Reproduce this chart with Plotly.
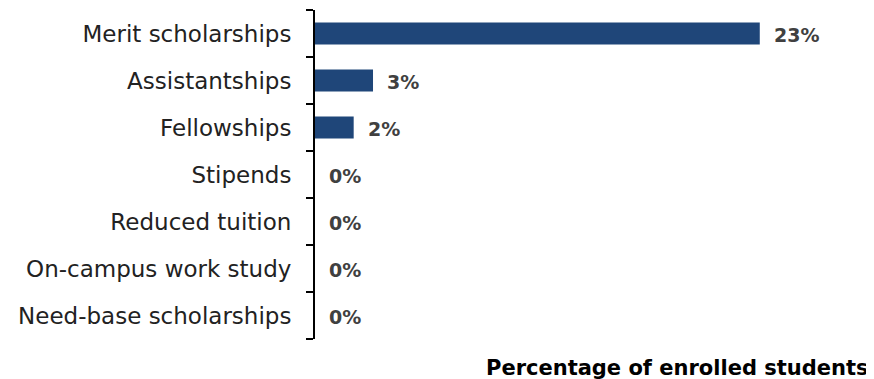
import plotly.graph_objects as go

categories = ["Merit scholarships", "Assistantships", "Fellowships", "Stipends",
              "Reduced tuition", "On-campus work study", "Need-base scholarships"]
values = [23, 3, 2, 0, 0, 0, 0]
labels = ["23%", "3%", "2%", "0%", "0%", "0%", "0%"]

FONT = "DejaVu Sans"

fig = go.Figure()
fig.add_trace(go.Bar(
    y=categories, x=values, orientation="h",
    marker=dict(color="#1f4679", line=dict(width=0)),
    width=0.47, hoverinfo="skip",
))

annotations = [
    dict(x=v, y=c, xref="x", yref="y", text=t, showarrow=False,
         xanchor="left", yanchor="middle", xshift=12, yshift=-1,
         font=dict(family=FONT, size=19, color="#404040", weight="bold"))
    for c, v, t in zip(categories, values, labels)
]
annotations.append(dict(
    x=1, y=0, xref="paper", yref="paper", xanchor="right", yanchor="middle",
    xshift=1, yshift=-29, text="Percentage of enrolled students", showarrow=False,
    font=dict(family=FONT, size=21, color="#000000", weight="bold")))

# page body has an 8px default margin, so the figure is sized/offset to compensate
fig.update_layout(
    width=866, height=371,
    margin=dict(l=307, r=4, t=2, b=40),
    paper_bgcolor="white", plot_bgcolor="white",
    showlegend=False,
    annotations=annotations,
    font=dict(family=FONT, size=23, color="#222222"),
)
fig.update_xaxes(range=[0, 28.7], visible=False, fixedrange=True, automargin=False)
fig.update_yaxes(
    categoryorder="array", categoryarray=categories[::-1],
    autorange=False, range=[-0.5, 6.5], automargin=False,
    showline=True, linecolor="#000000", linewidth=2,
    ticks="outside", tickson="boundaries", ticklen=7, tickwidth=2, tickcolor="#000000",
    ticklabelstandoff=17, showgrid=False, zeroline=False,
    tickfont=dict(family=FONT, size=23, color="#222222"),
)

fig.write_html("out.html")
